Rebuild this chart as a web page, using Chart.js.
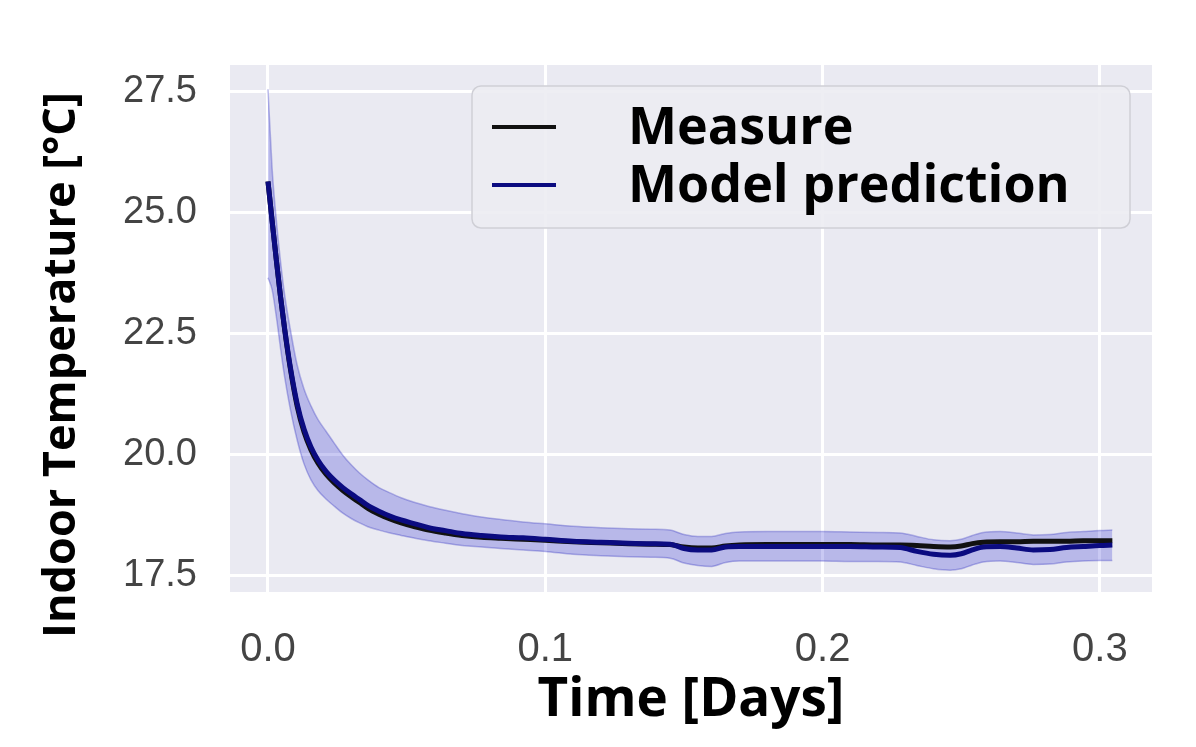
<!DOCTYPE html>
<html>
<head>
<meta charset="utf-8">
<script src="https://cdn.jsdelivr.net/npm/chart.js@4"></script>
<style>
  html, body { margin: 0; padding: 0; background: #ffffff; }
  #tempchart { display: block; }
</style>
</head>
<body>
<canvas id="tempchart" width="1196" height="747"></canvas>
<script>
// time in days
var timeDays = [0, 0.0015, 0.003, 0.0045, 0.006, 0.008, 0.0105, 0.013, 0.0155, 0.018,
  0.021, 0.024, 0.027, 0.030, 0.033, 0.036, 0.040, 0.044, 0.048, 0.053,
  0.058, 0.064, 0.070, 0.077, 0.084, 0.092, 0.100, 0.110, 0.120, 0.130,
  0.138, 0.145, 0.150, 0.155, 0.160, 0.165, 0.170, 0.180, 0.190, 0.200,
  0.210, 0.220, 0.228, 0.234, 0.240, 0.246, 0.250, 0.254, 0.258, 0.264,
  0.270, 0.276, 0.282, 0.288, 0.294, 0.300, 0.3045];

var measured = [25.64, 24.82, 24.02, 23.26, 22.58, 21.79, 21.0, 20.46, 20.09, 19.82,
  19.58, 19.4, 19.25, 19.12, 19.0, 18.88, 18.76, 18.66, 18.58, 18.5,
  18.43, 18.37, 18.32, 18.28, 18.26, 18.24, 18.22, 18.19, 18.17, 18.15,
  18.14, 18.13, 18.08, 18.06, 18.06, 18.1, 18.12, 18.13, 18.13, 18.13,
  18.13, 18.12, 18.12, 18.11, 18.09, 18.08, 18.1, 18.15, 18.18, 18.19,
  18.19, 18.2, 18.2, 18.2, 18.21, 18.21, 18.21];

var predicted = [25.64, 24.82, 24.02, 23.27, 22.6, 21.82, 21.05, 20.52, 20.15, 19.88,
  19.64, 19.46, 19.31, 19.18, 19.06, 18.94, 18.82, 18.72, 18.64, 18.56,
  18.48, 18.42, 18.36, 18.32, 18.29, 18.27, 18.24, 18.2, 18.18, 18.16,
  18.15, 18.14, 18.05, 18.02, 18.02, 18.08, 18.09, 18.09, 18.09, 18.09,
  18.09, 18.08, 18.07, 17.99, 17.93, 17.91, 17.94, 18.02, 18.08, 18.09,
  18.06, 18.02, 18.03, 18.07, 18.09, 18.11, 18.12];

var predUpper = [27.55, 25.9, 24.85, 24.0, 23.3, 22.6, 21.85, 21.35, 21.0, 20.72,
  20.47, 20.22, 19.98, 19.78, 19.61, 19.47, 19.31, 19.2, 19.1, 19.0,
  18.92, 18.84, 18.77, 18.7, 18.65, 18.6, 18.56, 18.51, 18.48, 18.46,
  18.45, 18.43, 18.34, 18.3, 18.3, 18.36, 18.39, 18.4, 18.4, 18.4,
  18.39, 18.38, 18.37, 18.3, 18.23, 18.21, 18.24, 18.32, 18.38, 18.4,
  18.37, 18.33, 18.34, 18.38, 18.4, 18.42, 18.43];

var predLower = [23.65, 23.4, 22.85, 22.2, 21.6, 20.95, 20.3, 19.8, 19.47, 19.25,
  19.07, 18.92, 18.78, 18.67, 18.58, 18.5, 18.43, 18.37, 18.32, 18.26,
  18.21, 18.16, 18.11, 18.08, 18.05, 18.02, 17.99, 17.93, 17.9, 17.88,
  17.87, 17.85, 17.75, 17.7, 17.68, 17.76, 17.79, 17.79, 17.79, 17.79,
  17.78, 17.78, 17.77, 17.7, 17.63, 17.6, 17.63, 17.71, 17.77, 17.79,
  17.76, 17.72, 17.73, 17.77, 17.79, 17.8, 17.8];

var xTicks = [0.0, 0.1, 0.2, 0.3];
var yTicks = [17.5, 20.0, 22.5, 25.0, 27.5];
var yTitle = 'Indoor Temperature [°C]';

function toPoints(ys) {
  return timeDays.map(function(t, i) { return { x: t, y: ys[i] }; });
}

// grey seaborn-like panel behind the plot
var panelBackground = {
  id: 'panelBackground',
  beforeDraw: function(chart) {
    var a = chart.chartArea;
    var c = chart.ctx;
    c.save();
    c.fillStyle = '#eaeaf2';
    c.fillRect(a.left, a.top, a.right - a.left, a.bottom - a.top);
    c.restore();
  }
};

// legend box inside the plot + y title (sits lower than the axis centre)
var insideLegend = {
  id: 'insideLegend',
  afterDraw: function(chart) {
    var c = chart.ctx;
    var items = chart.data.datasets.filter(function(d) { return d.showInLegend; });
    c.save();
    c.beginPath();
    c.roundRect(472, 86, 658, 142, 9);
    c.fillStyle = 'rgba(236,236,242,0.9)';
    c.fill();
    c.strokeStyle = '#cfcfd6';
    c.lineWidth = 1.5;
    c.stroke();
    c.font = 'bold 52px "Open Sans", sans-serif';
    c.textBaseline = 'middle';
    c.fillStyle = '#000000';
    items.forEach(function(d, i) {
      var y = 127 + i * 58;
      c.beginPath();
      c.moveTo(492, y);
      c.lineTo(556, y);
      c.strokeStyle = d.borderColor;
      c.lineWidth = 4;
      c.stroke();
      c.fillText(d.label, 628, y + 2);
    });

    c.translate(62, 365);
    c.rotate(-Math.PI / 2);
    c.textAlign = 'center';
    c.font = 'bold 45px "Open Sans", sans-serif';
    c.fillText(yTitle, 0, 0);
    c.restore();
  }
};

var ctx = document.getElementById('tempchart').getContext('2d');
var tempChart = new Chart(ctx, {
  type: 'line',
  data: {
    datasets: [
      {
        label: 'Measure',
        showInLegend: true,
        data: toPoints(measured),
        borderColor: '#111111',
        borderWidth: 5,
        pointRadius: 0,
        cubicInterpolationMode: 'monotone',
        fill: false,
        order: 2
      },
      {
        label: 'Model prediction',
        showInLegend: true,
        data: toPoints(predicted),
        borderColor: '#0b0b80',
        borderWidth: 5,
        pointRadius: 0,
        cubicInterpolationMode: 'monotone',
        fill: false,
        order: 1
      },
      {
        label: 'upper',
        data: toPoints(predUpper),
        borderColor: 'rgba(40,40,190,0.3)',
        borderWidth: 1.5,
        backgroundColor: 'rgba(10,10,200,0.22)',
        pointRadius: 0,
        cubicInterpolationMode: 'monotone',
        fill: '+1',
        order: 3
      },
      {
        label: 'lower',
        data: toPoints(predLower),
        borderColor: 'rgba(40,40,190,0.3)',
        borderWidth: 1.5,
        pointRadius: 0,
        cubicInterpolationMode: 'monotone',
        fill: false,
        order: 4
      }
    ]
  },
  options: {
    responsive: false,
    animation: false,
    layout: { padding: { top: 65, right: 44, left: 0, bottom: 0 } },
    scales: {
      x: {
        type: 'linear',
        min: -0.0137,
        max: 0.3188,
        afterFit: function(scale) { scale.height = 155; },
        afterBuildTicks: function(scale) {
          scale.ticks = xTicks.map(function(v) { return { value: v }; });
        },
        grid: { color: '#ffffff', lineWidth: 3, drawTicks: false, tickLength: 0 },
        border: { display: false },
        ticks: {
          padding: 34,
          color: '#444444',
          maxRotation: 0,
          font: { family: '"Liberation Sans", Arial, sans-serif', size: 40 },
          callback: function(v) { return Number(v).toFixed(1); }
        },
        title: {
          display: true,
          text: 'Time [Days]',
          color: '#000000',
          font: { family: '"Open Sans", sans-serif', size: 53, weight: 'bold' },
          padding: { top: 0, bottom: 14 }
        }
      },
      y: {
        min: 17.15,
        max: 28.05,
        afterFit: function(scale) { scale.width = 230; },
        afterBuildTicks: function(scale) {
          scale.ticks = yTicks.map(function(v) { return { value: v }; });
        },
        grid: { color: '#ffffff', lineWidth: 3, drawTicks: false, tickLength: 0 },
        border: { display: false },
        ticks: {
          padding: 33,
          color: '#444444',
          font: { family: '"Liberation Sans", Arial, sans-serif', size: 38 },
          callback: function(v) { return Number(v).toFixed(1); }
        }
      }
    },
    plugins: {
      legend: { display: false },
      tooltip: { enabled: false }
    }
  },
  plugins: [panelBackground, insideLegend]
});
</script>
</body>
</html>
